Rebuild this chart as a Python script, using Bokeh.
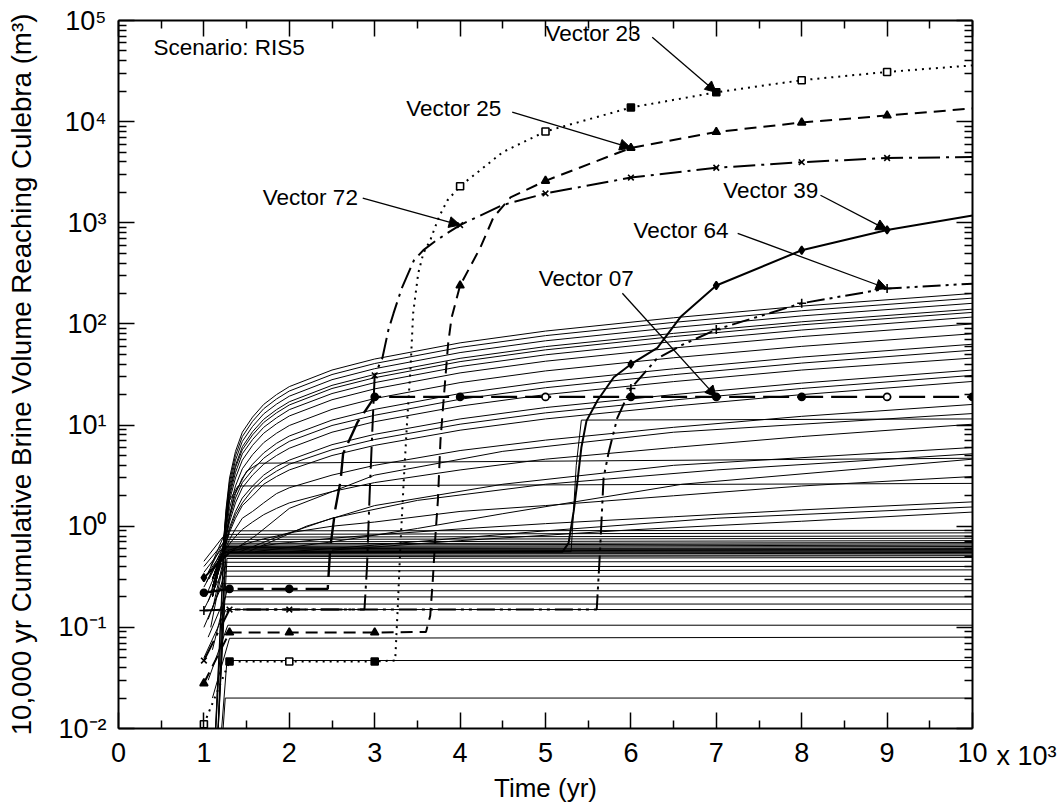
from bokeh.plotting import figure
from bokeh.models import (Range1d, LinearAxis, LogAxis, FixedTicker, CustomJSTickFormatter,
                          Label, Arrow, NormalHead, ColumnDataSource)
from bokeh.embed import file_html
from bokeh.resources import INLINE

FONT = "Liberation Sans"

# ---------------- axes / ticks ----------------
X_TICKS = [0, 1, 2, 3, 4, 5, 6, 7, 8, 9, 10]
X_TICK_LABELS = ["0", "1", "2", "3", "4", "5", "6", "7", "8", "9", "10"]
X_MINOR = [0.5, 1.5, 2.5, 3.5, 4.5, 5.5, 6.5, 7.5, 8.5, 9.5]
X_MULT_LABEL = "x 10³"
Y_TICKS = [1e-2, 1e-1, 1e0, 1e1, 1e2, 1e3, 1e4, 1e5]
Y_TICK_LABELS = ["10⁻²", "10⁻¹", "10⁰", "10¹", "10²", "10³", "10⁴", "10⁵"]
Y_MINOR = [k * d for d in Y_TICKS[:-1] for k in range(2, 10)]
X_TITLE = "Time (yr)"
Y_TITLE = "10,000 yr Cumulative Brine Volume Reaching Culebra (m³)"
SCENARIO = "Scenario:  RIS5"

# ---------------- background vectors ----------------
T_UP = [1.10, 1.22, 1.26, 1.30, 1.37, 1.45, 1.57, 1.70, 1.85, 2.00, 2.50, 3.00,
        4.00, 5.00, 6.50, 8.00, 10.0]
UPPER_VALUES = [
    [0.20, 0.55, 1.5, 3.0, 5.5, 8.5, 12, 16, 20, 24, 35, 45, 65, 85, 115, 150, 200],
    [0.20, 0.55, 1.4, 2.75, 5.0, 7.7, 10.9, 14.5, 18.1, 21.7, 31.6, 40.6, 58.6, 76.6, 103.6, 135, 180],
    [0.25, 0.55, 1.3, 2.5, 4.5, 6.9, 9.7, 12.9, 16.1, 19.3, 28.1, 36.1, 52.1, 68.1, 92.1, 120, 160],
    [0.30, 0.55, 1.2, 2.3, 4.0, 6.1, 8.6, 11.4, 14.2, 17.0, 24.7, 31.7, 45.7, 59.7, 80.7, 105, 140],
    [0.30, 0.55, 1.2, 2.1, 3.8, 5.7, 8.0, 10.6, 13.2, 15.8, 23.0, 29.4, 42.4, 55.4, 75, 98, 130],
    [0.20, 0.55, 1.1, 1.97, 3.4, 5.2, 7.2, 9.5, 11.8, 14.2, 20.5, 26.3, 37.9, 49.5, 67, 87, 117],
    [0.30, 0.55, 1.03, 1.8, 3.0, 4.5, 6.3, 8.3, 10.3, 12.3, 17.8, 22.8, 32.8, 42.8, 57.8, 75, 100],
    [0.25, 0.55, 0.93, 1.5, 2.5, 3.7, 5.1, 6.7, 8.3, 9.9, 14.3, 18.3, 26.3, 34.3, 46.3, 60, 80],
    [0.30, 0.55, 0.85, 1.3, 2.1, 3.0, 4.1, 5.3, 6.6, 7.8, 11.2, 14.3, 20.5, 26.7, 36, 47, 63],
    [0.20, 0.55, 0.80, 1.2, 1.9, 2.7, 3.6, 4.7, 5.8, 6.9, 9.9, 12.5, 18.0, 23.4, 31.5, 41, 55],
    [0.30, 0.55, 0.77, 1.1, 1.7, 2.4, 3.2, 4.1, 5.0, 5.9, 8.5, 10.8, 15.4, 20.0, 26.9, 35, 46],
    [0.25, 0.55, 0.71, 0.97, 1.4, 1.9, 2.5, 3.2, 3.9, 4.5, 6.4, 8.1, 11.5, 14.9, 20, 26, 35],
    [0.30, 0.55, 0.69, 0.92, 1.3, 1.7, 2.3, 2.9, 3.5, 4.1, 5.7, 7.2, 10.2, 13.2, 17.7, 23, 31],
    [0.20, 0.55, 0.67, 0.87, 1.2, 1.6, 2.0, 2.6, 3.1, 3.6, 5.0, 6.3, 8.9, 11.5, 15.4, 20, 27],
    [0.30, 0.55, 0.62, 0.74, 0.94, 1.2, 1.4, 1.7, 2.1, 2.4, 3.2, 4.0, 5.6, 7.1, 9.5, 12.2, 16],
    [0.25, 0.55, 0.60, 0.67, 0.79, 0.93, 1.1, 1.3, 1.5, 1.7, 2.2, 2.7, 3.6, 4.6, 6.0, 7.7, 10.2],
    [0.30, 0.55, 0.56, 0.58, 0.61, 0.65, 0.70, 0.75, 0.80, 0.86, 1.0, 1.1, 1.4, 1.6, 2.0, 2.5, 3.1],
    [0.30, 0.55, 0.55, 0.56, 0.58, 0.60, 0.62, 0.64, 0.67, 0.69, 0.76, 0.82, 0.94, 1.06, 1.24, 1.45, 1.74],
]

LATE_T = [
    [1.30, 1.60, 2.00, 3.00, 4.50, 6.50, 10.0],
    [1.40, 1.80, 2.50, 3.50, 5.00, 7.00, 10.0],
    [1.60, 2.50, 3.50, 4.50, 6.60, 10.0],
    [2.00, 3.00, 5.00, 7.00, 10.0],
    [2.50, 4.00, 6.00, 8.00, 10.0],
    [1.50, 2.20, 3.00, 4.50, 6.50, 10.0],
]
LATE_V = [
    [0.55, 0.80, 1.5, 3.2, 5.5, 8.5, 13],
    [0.55, 0.75, 1.2, 1.8, 2.6, 3.6, 5.2],
    [0.56, 0.70, 0.95, 1.33, 2.6, 4.6],
    [0.56, 0.65, 0.90, 1.2, 1.55],
    [0.58, 0.72, 0.92, 1.12, 1.38],
    [0.55, 1.0, 1.6, 2.6, 4.0, 6.0],
]

PLAT_T = [
    [1.10, 1.22, 1.35, 1.50, 1.65, 10.0],
    [1.10, 1.22, 1.30, 1.40, 10.0],
    [1.00, 1.25, 5.30, 5.36, 5.42, 10.0],
]
PLAT_V = [
    [0.20, 0.55, 2.0, 3.5, 4.2, 4.7],
    [0.30, 0.55, 1.8, 2.5, 2.65],
    [0.30, 0.55, 0.56, 4.0, 11.2, 11.5],
]

LOW_T0 = [1.20, 1.18, 1.10, 1.05, 1.00, 1.15, 1.05, 1.10, 1.00, 1.12, 1.05,
          1.00, 1.08, 1.15, 1.02, 1.10, 1.00, 1.05, 1.12, 1.00, 1.08, 1.15,
          1.03, 1.10, 1.00, 1.06, 1.12, 1.00, 1.05, 1.10, 1.00, 1.08, 1.15]
LOW_V0 = [0.005, 0.005, 0.02, 0.03, 0.05, 0.005, 0.08, 0.06, 0.10, 0.005, 0.12,
          0.15, 0.10, 0.005, 0.20, 0.15, 0.25, 0.18, 0.005, 0.30, 0.22, 0.005,
          0.28, 0.25, 0.35, 0.30, 0.005, 0.40, 0.35, 0.30, 0.45, 0.40, 0.005]
LOW_T1 = [1.25, 1.27, 1.30, 1.28, 1.26, 1.24, 1.25, 1.27, 1.22, 1.24, 1.26,
          1.25, 1.23, 1.27, 1.22, 1.24, 1.21, 1.25, 1.23, 1.22, 1.24, 1.26,
          1.21, 1.23, 1.22, 1.25, 1.24, 1.22, 1.23, 1.25, 1.22, 1.24, 1.26]
LOW_LEVEL = [0.020, 0.047, 0.078, 0.105, 0.150, 0.170, 0.200, 0.230, 0.270, 0.320, 0.360,
             0.400, 0.440, 0.480, 0.500, 0.515, 0.530, 0.540, 0.550, 0.560, 0.570, 0.580,
             0.590, 0.600, 0.615, 0.630, 0.650, 0.670, 0.700, 0.740, 0.780, 0.830, 0.900]
LOW_END = [0.020, 0.047, 0.080, 0.105, 0.150, 0.170, 0.200, 0.230, 0.270, 0.320, 0.370,
           0.400, 0.450, 0.490, 0.510, 0.520, 0.540, 0.550, 0.560, 0.570, 0.580, 0.590,
           0.600, 0.610, 0.630, 0.650, 0.670, 0.690, 0.720, 0.760, 0.800, 0.860, 0.910]

# ---------------- highlighted vectors ----------------
V23_T = [1.0, 1.3, 2.0, 3.0, 3.24, 3.27, 3.30, 3.34, 3.38, 3.42, 3.45, 3.51, 3.57, 3.65,
         3.75, 3.85, 4.0, 4.5, 5.0, 6.0, 7.0, 8.0, 9.0, 10.0]
V23_V = [0.011, 0.046, 0.046, 0.046, 0.047, 0.157, 0.62, 2.8, 11, 37, 127, 318, 500, 670,
         1130, 1660, 2300, 5000, 8000, 13800, 19500, 25700, 31000, 36000]
V23_MARK_T = [1.0, 1.3, 2.0, 3.0, 4.0, 5.0, 6.0, 7.0, 8.0, 9.0]

V25_T = [1.0, 1.3, 2.0, 3.0, 3.6, 3.65, 3.68, 3.71, 3.74, 3.77, 3.80, 3.83, 3.86, 3.90,
         4.0, 4.24, 4.39, 4.59, 5.0, 6.0, 7.0, 8.0, 9.0, 10.0]
V25_V = [0.028, 0.089, 0.089, 0.089, 0.09, 0.13, 0.29, 0.78, 1.8, 7.0, 15, 31, 64, 115,
         240, 575, 1130, 1780, 2600, 5500, 7900, 9800, 11500, 13500]
V25_MARK_T = [1.0, 1.3, 2.0, 3.0, 4.0, 5.0, 6.0, 7.0, 8.0, 9.0]

V72_T = [1.0, 1.3, 2.0, 2.88, 2.91, 2.94, 2.97, 3.0, 3.09, 3.16, 3.22, 3.27, 3.32, 3.46,
         3.57, 3.70, 3.85, 4.0, 4.5, 5.0, 6.0, 7.0, 8.0, 9.0, 10.0]
V72_V = [0.047, 0.15, 0.15, 0.15, 0.4, 2.0, 8.0, 31, 46, 87, 127, 171, 229, 426,
         537, 650, 790, 950, 1500, 1950, 2800, 3500, 3970, 4370, 4470]
V72_MARK_T = [1.0, 1.3, 2.0, 3.0, 4.0, 5.0, 6.0, 7.0, 8.0, 9.0]

V39_T = [1.0, 1.3, 5.2, 5.27, 5.33, 5.37, 5.42, 5.48, 5.61, 5.80, 6.0, 6.31, 6.58, 7.0,
         8.0, 9.0, 10.0]
V39_V = [0.31, 0.55, 0.56, 0.68, 1.4, 2.6, 6.0, 11.0, 17.6, 29.7, 40, 58, 117, 240,
         535, 850, 1180]
V39_MARK_T = [1.0, 6.0, 7.0, 8.0, 9.0]

V64_T = [1.0, 1.3, 5.6, 5.64, 5.68, 5.74, 5.84, 6.0, 6.3, 6.6, 7.0, 8.0, 9.0, 10.0]
V64_V = [0.147, 0.15, 0.15, 0.6, 3.0, 5.4, 11.7, 23, 45, 62, 88, 160, 224, 250]
V64_MARK_T = [1.0, 6.0, 7.0, 8.0, 9.0]

V07_T = [1.0, 1.3, 2.0, 2.45, 2.48, 2.54, 2.60, 2.63, 2.74, 2.80, 3.0, 4.0, 5.0, 6.0,
         7.0, 8.0, 9.0, 10.0]
V07_V = [0.22, 0.24, 0.24, 0.24, 0.62, 1.5, 2.8, 5.2, 8.3, 10.7, 19, 19, 19, 19,
         19, 19, 19, 19]
V07_MARK_T = [1.0, 1.3, 2.0, 3.0, 4.0, 5.0, 6.0, 7.0, 8.0, 9.0, 10.0]
V07_OPEN_T = [5.0, 9.0]

VECTOR_LABELS = [
    ("Vector 23", 5.00, 74800, 6.25, 68400, 7.0),
    ("Vector 25", 3.37, 13600, 4.61, 12400, 6.0),
    ("Vector 72", 1.69, 1790, 2.86, 1750, 4.0),
    ("Vector 39", 7.08, 2090, 8.22, 1870, 9.0),
    ("Vector 64", 6.03, 843, 7.25, 787, 9.0),
    ("Vector 07", 4.92, 282, 5.90, 201, 7.0),
]

# ---------------- figure ----------------
p = figure(frame_width=854, frame_height=708,
           x_range=Range1d(0, 10), y_range=Range1d(0.01, 1e5), y_axis_type="log",
           output_backend="svg", toolbar_location=None,
           min_border_left=118, min_border_right=90, min_border_top=20, min_border_bottom=78,
           background_fill_color="white", border_fill_color="white",
           outline_line_color=None)
p.grid.visible = False

x_fmt = CustomJSTickFormatter(args=dict(tks=X_TICKS, lbls=X_TICK_LABELS), code="""
let best = 0, bd = Infinity;
for (let i = 0; i < tks.length; i++) { const d = Math.abs(tks[i] - tick); if (d < bd) { bd = d; best = i; } }
return lbls[best];""")
y_fmt = CustomJSTickFormatter(args=dict(tks=Y_TICKS, lbls=Y_TICK_LABELS), code="""
let best = 0, bd = Infinity;
for (let i = 0; i < tks.length; i++) { const d = Math.abs(Math.log10(tks[i]) - Math.log10(tick)); if (d < bd) { bd = d; best = i; } }
return lbls[best];""")
blank = CustomJSTickFormatter(code="return '';")


def style_axis(ax):
    ax.axis_line_width = 2
    ax.axis_line_color = "black"
    ax.major_tick_in = 16
    ax.major_tick_out = 0
    ax.minor_tick_in = 8
    ax.minor_tick_out = 0
    ax.major_tick_line_width = 1.5
    ax.minor_tick_line_width = 1.5
    ax.major_tick_line_color = "black"
    ax.minor_tick_line_color = "black"
    ax.major_label_text_font = FONT
    ax.major_label_text_font_size = "27px"
    ax.major_label_text_color = "black"
    ax.axis_label_text_font = FONT
    ax.axis_label_text_font_style = "normal"
    ax.axis_label_text_font_size = "26px"
    ax.axis_label_text_color = "black"


xa = p.xaxis[0]
xa.ticker = FixedTicker(ticks=X_TICKS, minor_ticks=X_MINOR)
xa.formatter = x_fmt
style_axis(xa)
xa.major_label_standoff = 14
xa.axis_label = X_TITLE
xa.axis_label_standoff = 8

ya = p.yaxis[0]
ya.ticker = FixedTicker(ticks=Y_TICKS, minor_ticks=Y_MINOR)
ya.formatter = y_fmt
style_axis(ya)
ya.major_label_standoff = 12
ya.axis_label = Y_TITLE
ya.axis_label_text_font_size = "27.7px"
ya.axis_label_standoff = 18

top = LinearAxis(ticker=FixedTicker(ticks=X_TICKS, minor_ticks=X_MINOR), formatter=blank)
style_axis(top)
top.major_label_text_font_size = "1px"
top.major_label_standoff = 0
p.add_layout(top, "above")

right = LogAxis(ticker=FixedTicker(ticks=Y_TICKS, minor_ticks=Y_MINOR), formatter=blank)
style_axis(right)
right.major_label_text_font_size = "1px"
right.major_label_standoff = 0
p.add_layout(right, "right")

# ---------------- background lines ----------------
bg_xs, bg_ys = [], []
for vals in UPPER_VALUES:
    bg_xs.append(T_UP)
    bg_ys.append(vals)
for t, v in zip(LATE_T, LATE_V):
    bg_xs.append(t)
    bg_ys.append(v)
for t, v in zip(PLAT_T, PLAT_V):
    bg_xs.append(t)
    bg_ys.append(v)
for t0, v0, t1, lev, end in zip(LOW_T0, LOW_V0, LOW_T1, LOW_LEVEL, LOW_END):
    bg_xs.append([t0, t1, 10.0])
    bg_ys.append([v0, lev, end])
p.multi_line(xs=bg_xs, ys=bg_ys, line_color="black", line_width=1.0)


# ---------------- highlighted vectors ----------------
def marks(T, V, MT):
    return [V[T.index(t)] for t in MT]


def draw_vector(T, V, MT, dash, marker, size, fills, lw=2.0):
    p.line(T, V, line_color="black", line_width=lw, line_dash=dash)
    src = ColumnDataSource(dict(x=MT, y=marks(T, V, MT), f=fills))
    p.scatter("x", "y", source=src, marker=marker, size=size, line_color="black",
              fill_color="f", line_width=1.6)


draw_vector(V23_T, V23_V, V23_MARK_T, "2 5", "square", 7,
            ["white", "black", "white", "black", "white", "white", "black", "black", "white", "white"])
draw_vector(V25_T, V25_V, V25_MARK_T, "12 7", "triangle", 8, ["black"] * len(V25_MARK_T))
draw_vector(V72_T, V72_V, V72_MARK_T, "22 6 3 6", "x", 8, ["black"] * len(V72_MARK_T))
draw_vector(V39_T, V39_V, V39_MARK_T, "solid", "diamond", 8, ["black"] * len(V39_MARK_T))
draw_vector(V64_T, V64_V, V64_MARK_T, "18 5 3 5 3 5", "cross", 9, ["black"] * len(V64_MARK_T))
draw_vector(V07_T, V07_V, V07_MARK_T, "26 8", "circle", 7,
            ["white" if t in V07_OPEN_T else "black" for t in V07_MARK_T], lw=2.4)

SERIES = {"Vector 23": (V23_T, V23_V), "Vector 25": (V25_T, V25_V),
          "Vector 72": (V72_T, V72_V), "Vector 39": (V39_T, V39_V),
          "Vector 64": (V64_T, V64_V), "Vector 07": (V07_T, V07_V)}

for text, lx, ly, ax0, ay0, tt in VECTOR_LABELS:
    T, V = SERIES[text]
    p.add_layout(Label(x=lx, y=ly, text=text, text_font=FONT, text_font_size="22.5px",
                       text_baseline="middle", text_align="left", text_color="black"))
    p.add_layout(Arrow(end=NormalHead(size=11, fill_color="black", line_color="black", line_width=1),
                       x_start=ax0, y_start=ay0, x_end=tt, y_end=V[T.index(tt)],
                       line_color="black", line_width=1.3))

p.add_layout(Label(x=0.41, y=54300, text=SCENARIO, text_font=FONT, text_font_size="22.5px",
                   text_baseline="middle", text_align="left", text_color="black"))
# multiplier next to the last tick label (in the right side panel, so it is not clipped)
p.add_layout(Label(x=X_TICKS[-1], y=Y_TICKS[0], text=X_MULT_LABEL, text_font=FONT,
                   text_font_size="27px", text_baseline="top", text_align="left",
                   x_offset=24, y_offset=-12, text_color="black"), "right")

open("out.html", "w").write(file_html(p, INLINE))
